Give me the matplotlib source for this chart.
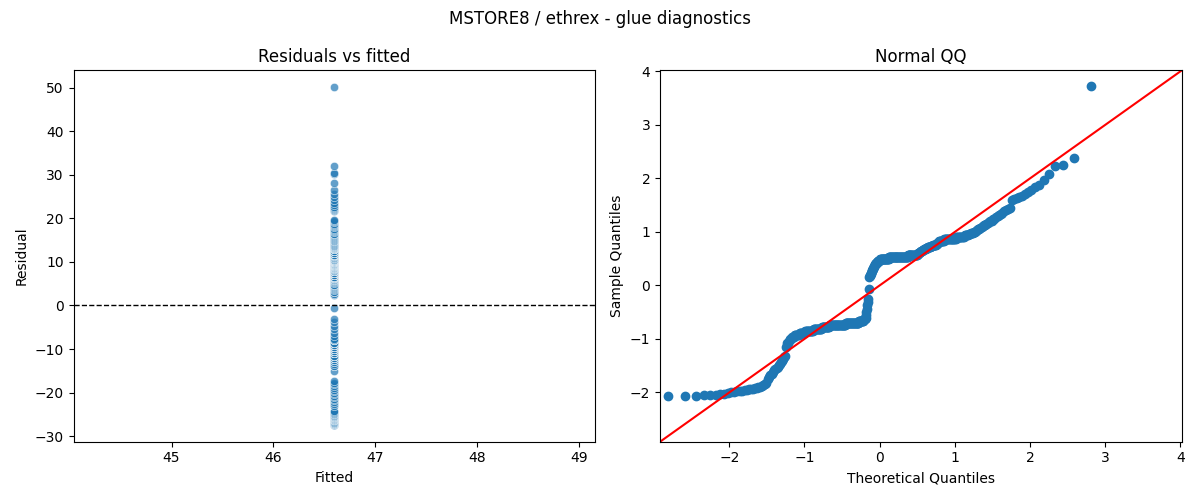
import numpy as np
import matplotlib
matplotlib.use("Agg")
import matplotlib.pyplot as plt
from statistics import NormalDist

fitted_value = 46.6

# residuals, sorted (repeated values written as [v] * count)
resid_low = [-27.4, -27.4, -27.3, -27.2, -27.1, -27.0, -26.9, -26.8, -26.6,
             -26.4, -26.3, -26.2, -26.1, -26.0, -25.9, -25.8,
             -25.7, -25.6, -25.5, -25.4, -25.3, -25.2,
             -25.0, -24.8, -24.6, -24.4, -24.2,
             -23.1, -22.6, -22.2, -21.8, -21.4, -20.9, -20.7, -20.4,
             -20.0, -19.6, -19.3, -18.9, -18.5, -18.1, -17.7, -17.3]
resid_mid_neg = ([-15.0, -14.0, -14.0, -13.5, -13.0, -13.0, -12.5, -12.5, -12.5]
                 + [-12.0] * 6 + [-11.5] * 7 + [-11.0] * 12 + [-10.5] * 13
                 + [-10.0] * 13 + [-9.5] * 30 + [-9.0] * 27 + [-8.5] * 10
                 + [-8.0] * 4
                 + [-7.8, -7.1, -6.3, -5.5, -4.7, -3.9, -3.2, -0.5])
resid_mid_pos = ([2.3, 2.7, 3.0, 3.2, 3.5, 3.8, 4.0,
                  4.2, 4.4, 4.6, 4.8, 5.1, 5.4, 5.6,
                  5.8, 5.9, 6.0, 6.2, 6.3, 6.4, 6.6]
                 + [6.5] * 3 + [7.0] * 19 + [7.5] * 40 + [8.0] * 19
                 + [8.2, 8.3, 8.4, 8.5, 8.6, 8.7, 8.8, 8.9, 9.0, 9.0, 9.1, 9.2,
                    9.3, 9.3, 9.4, 9.5, 9.6, 9.6, 9.7, 9.8, 9.9, 9.9, 10.0, 10.0,
                    10.1, 10.1, 10.2, 10.2, 10.3, 10.3, 10.4, 10.4, 10.5, 10.5])
resid_high = ([10.7, 10.9, 11.0, 11.2, 11.3, 11.4]
              + [11.5] * 6 + [12.0] * 17 + [12.5] * 10 + [13.0] * 5
              + [13.1, 13.2, 13.3, 13.4, 13.5, 13.6,
                 13.7, 13.9, 14.1, 14.3, 14.5, 14.7, 14.9, 15.1, 15.3, 15.5,
                 15.7, 15.9, 16.1, 16.3, 16.5, 16.8,
                 17.0, 17.3, 17.6, 17.9, 18.2, 18.5, 18.8, 19.1, 19.4, 19.6,
                 21.6, 21.9, 22.2, 22.4, 22.7, 23.1,
                 23.6, 24.2, 24.8, 25.5, 26.6, 28.2, 30.1, 30.4, 32.1, 50.1])

residuals = np.array(resid_low + resid_mid_neg + resid_mid_pos + resid_high)
fitted = np.full(len(residuals), fitted_value)

fig, (ax1, ax2) = plt.subplots(1, 2, figsize=(12, 5))

# residuals vs fitted
ax1.scatter(fitted, residuals, s=36, alpha=0.7, edgecolor="white", linewidth=0.5)
ax1.axhline(0, color="black", linestyle="--", linewidth=1)
ax1.set_xlabel("Fitted")
ax1.set_ylabel("Residual")
ax1.set_title("Residuals vs fitted")

# normal QQ (standardized, 45 degree line)
n = len(residuals)
sample_q = np.sort((residuals - residuals.mean()) / residuals.std())
theo_q = np.array([NormalDist().inv_cdf(i / (n + 1)) for i in range(1, n + 1)])
ax2.plot(theo_q, sample_q, "o", color="C0", markersize=6)
ax2.axline((0, 0), slope=1, color="r")
ax2.set_xlim(-2.92, 4.02)
ax2.set_ylim(-2.92, 4.02)
ax2.set_xlabel("Theoretical Quantiles")
ax2.set_ylabel("Sample Quantiles")
ax2.set_title("Normal QQ")

fig.suptitle("MSTORE8 / ethrex - glue diagnostics")
fig.tight_layout()
fig.savefig("out.png", dpi=100)
